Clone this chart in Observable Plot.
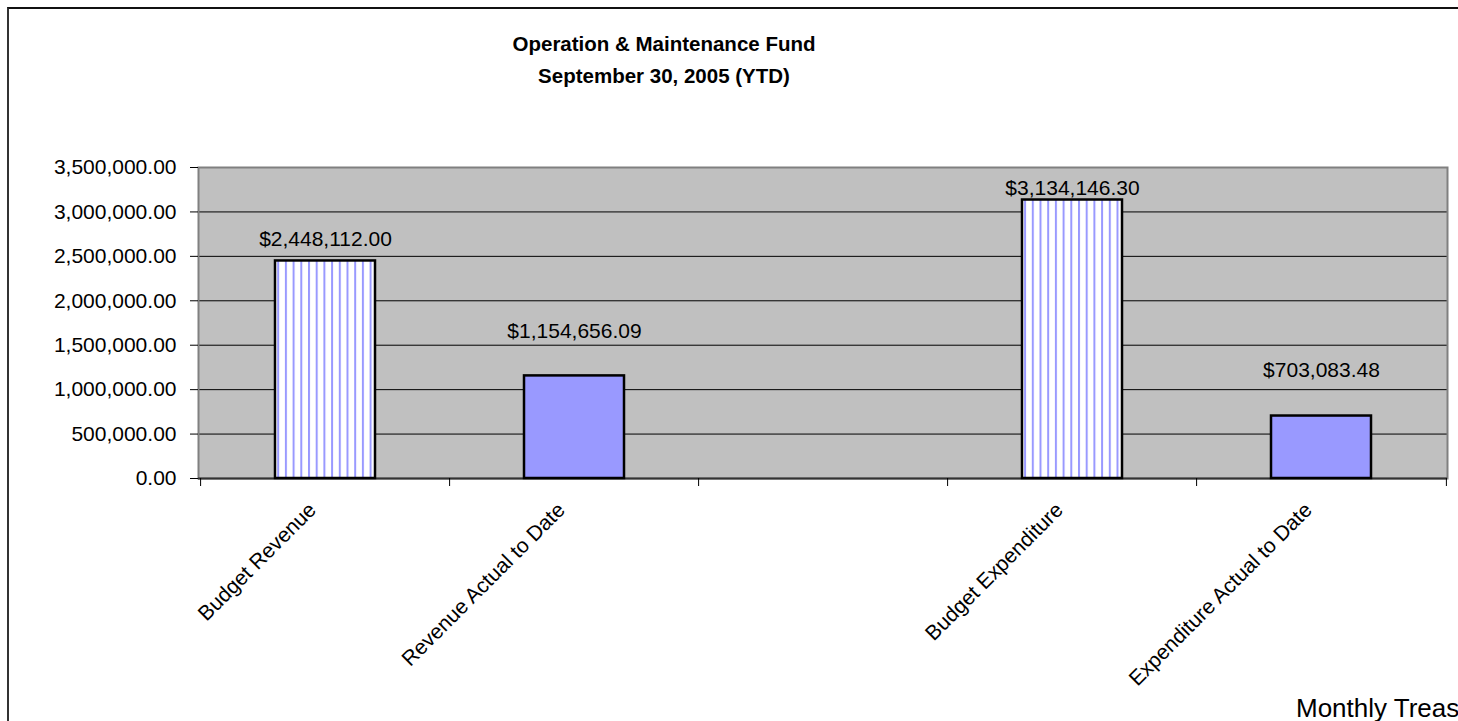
<!DOCTYPE html>
<html>
<head>
<meta charset="utf-8">
<script src="https://cdn.jsdelivr.net/npm/d3@7"></script>
<script src="https://cdn.jsdelivr.net/npm/@observablehq/plot@0.6"></script>
<style>
  html, body { margin: 0; padding: 0; background: #fff; }
  body { width: 1458px; height: 721px; overflow: hidden; position: relative; font-family: "Liberation Sans", Arial, sans-serif; }
  #border { position: absolute; left: 7px; top: 7px; width: 2000px; height: 2000px; border-left: 2px solid #333; border-top: 2px solid #111; }
  #chart { position: absolute; left: 0; top: 0; }
  #title { position: absolute; left: 364px; top: 28px; width: 600px; text-align: center; font-weight: bold; font-size: 20.5px; line-height: 32px; color: #000; }
  #foot { position: absolute; left: 1296px; top: 695px; font-size: 26px; line-height: 26px; white-space: nowrap; color: #000; }
</style>
</head>
<body>
<div id="border"></div>
<div id="chart"></div>
<div id="title">Operation &amp; Maintenance Fund<br>September 30, 2005 (YTD)</div>
<div id="foot">Monthly Treas</div>
<script>
// ---- data ----
const categories = ["Budget Revenue", "Revenue Actual to Date", "", "Budget Expenditure", "Expenditure Actual to Date"];
const values = [2448112.00, 1154656.09, null, 3134146.30, 703083.48];
const kinds = ["Budget", "Actual", null, "Budget", "Actual"];
const yTicks = [0, 500000, 1000000, 1500000, 2000000, 2500000, 3000000, 3500000];

// ---- layout constants ----
const W = 1458, H = 721;
const mL = 198, mR = 11, mT = 167, mB = 243;
const step = (W - mL - mR) / categories.length;
const labelDy = [-21.5, -45, 0, -11.5, -45.5];
const FS = 21;

const rows = categories.map((c, i) => ({category: c, value: values[i], kind: kinds[i], i}));
const bars = rows.filter(d => d.value != null);
const fmtVal = d3.format("$,.2f");
const last = categories[categories.length - 1];

const marks = [
  Plot.frame({fill: "#c0c0c0"}),
  Plot.ruleY(yTicks.filter(t => t > 0 && t < 3500000), {stroke: "#000", strokeWidth: 1}),
  Plot.frame({stroke: "#808080", strokeWidth: 2}),
  Plot.ruleY([0], {stroke: "#333", strokeWidth: 2}),
  Plot.axisY({ticks: yTicks, tickFormat: d3.format(",.2f"), tickSize: 8, tickPadding: 14, fontSize: FS, label: null}),
  Plot.barY(bars.filter(d => d.kind === "Budget"), {x: "category", y: "value", fill: "url(#stripes)", stroke: "#000", strokeWidth: 2.5}),
  Plot.barY(bars.filter(d => d.kind === "Actual"), {x: "category", y: "value", fill: "#9999ff", stroke: "#000", strokeWidth: 2.5}),
  Plot.ruleX(categories, {x: d => d, y1: 0, y2: 0, insetBottom: -8, dx: -step / 2, stroke: "#000"}),
  Plot.ruleX([last], {x: d => d, y1: 0, y2: 0, insetBottom: -8, dx: step / 2, stroke: "#000"}),
  Plot.text(bars, {x: "category", text: "category", frameAnchor: "bottom", rotate: -45, textAnchor: "end", lineAnchor: "middle", dx: -13, dy: 28, fontSize: FS, fill: "#000"}),
  ...bars.map(d => Plot.text([d], {x: "category", y: "value", text: r => fmtVal(r.value), dy: labelDy[d.i], fontSize: FS, fill: "#000"}))
];

const chart = Plot.plot({
  width: W, height: H,
  marginLeft: mL, marginRight: mR, marginTop: mT, marginBottom: mB,
  style: {fontFamily: "'Liberation Sans', Arial, sans-serif", fontSize: FS + "px", background: "transparent", color: "#000"},
  x: {type: "band", domain: categories, paddingInner: 0.6, paddingOuter: 0.3, axis: null},
  y: {domain: [0, 3500000], axis: null},
  marks
});

// stripe pattern for budget bars
const defs = d3.select(chart).insert("defs", ":first-child");
const pat = defs.append("pattern").attr("id", "stripes").attr("patternUnits", "userSpaceOnUse")
  .attr("width", 7.7).attr("height", 10);
pat.append("rect").attr("width", 7.7).attr("height", 10).attr("fill", "#fff");
pat.append("rect").attr("x", 0).attr("width", 2).attr("height", 10).attr("fill", "#9999ff");

document.getElementById("chart").appendChild(chart);
</script>
</body>
</html>
